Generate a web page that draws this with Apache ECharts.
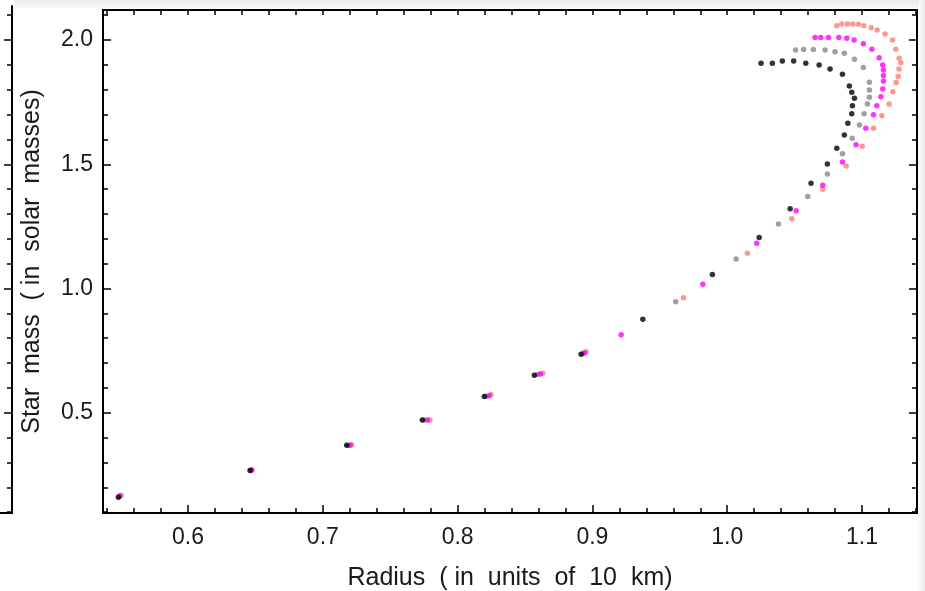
<!DOCTYPE html>
<html>
<head>
<meta charset="utf-8">
<script src="https://cdn.jsdelivr.net/npm/echarts@6/dist/echarts.min.js"></script>
<style>
  html, body { margin: 0; padding: 0; background: #fff; }
  #chart { width: 925px; height: 591px; }
</style>
</head>
<body>
<div id="chart"></div>
<script>
// Mass–radius sequences for four equations of state (radius in 10 km, mass in solar masses)
const radiusBlack = [0.5483, 0.6460, 0.7177, 0.7738, 0.8198, 0.8569, 0.8916, 0.9374, 0.9890, 1.0237, 1.0467, 1.0622, 1.0743, 1.0813, 1.0869, 1.0895, 1.0924, 1.0929, 1.0944, 1.0924, 1.0906, 1.0855, 1.0763, 1.0682, 1.0583, 1.0493, 1.0409, 1.0335, 1.0251];
const massBlack   = [0.160, 0.267, 0.369, 0.471, 0.565, 0.651, 0.735, 0.876, 1.056, 1.205, 1.321, 1.424, 1.501, 1.565, 1.618, 1.665, 1.703, 1.736, 1.766, 1.790, 1.815, 1.862, 1.884, 1.900, 1.907, 1.916, 1.916, 1.907, 1.907];

const radiusGray = [0.5488, 0.6465, 0.7187, 0.7751, 0.8211, 0.8589, 0.8931, 0.9618, 1.0066, 1.0380, 1.0598, 1.0743, 1.0855, 1.0927, 1.0981, 1.1016, 1.1040, 1.1055, 1.1055, 1.1055, 1.1010, 1.0944, 1.0869, 1.0800, 1.0726, 1.0639, 1.0567, 1.0507];
const massGray   = [0.163, 0.268, 0.369, 0.471, 0.566, 0.654, 0.739, 0.947, 1.119, 1.260, 1.370, 1.461, 1.542, 1.605, 1.658, 1.703, 1.743, 1.770, 1.799, 1.830, 1.890, 1.923, 1.947, 1.953, 1.960, 1.962, 1.962, 1.960];

const radiusMagenta = [0.5495, 0.6471, 0.7202, 0.7775, 0.8233, 0.8612, 0.8940, 0.9213, 0.9819, 1.0219, 1.0511, 1.0709, 1.0855, 1.0956, 1.1028, 1.1085, 1.1110, 1.1140, 1.1154, 1.1159, 1.1159, 1.1159, 1.1154, 1.1127, 1.1073, 1.1010, 1.0941, 1.0887, 1.0828, 1.0751, 1.0694, 1.0652];
const massMagenta   = [0.166, 0.269, 0.369, 0.471, 0.568, 0.656, 0.740, 0.814, 1.017, 1.182, 1.313, 1.416, 1.509, 1.579, 1.645, 1.699, 1.736, 1.772, 1.803, 1.835, 1.857, 1.880, 1.900, 1.929, 1.963, 1.985, 2.000, 2.007, 2.010, 2.010, 2.010, 2.010];

const radiusSalmon = [0.5503, 0.6474, 0.7213, 0.7795, 0.8248, 0.8632, 0.8953, 0.9675, 1.0150, 1.0479, 1.0709, 1.0882, 1.1001, 1.1085, 1.1147, 1.1201, 1.1229, 1.1253, 1.1268, 1.1275, 1.1288, 1.1275, 1.1251, 1.1226, 1.1171, 1.1112, 1.1068, 1.1013, 1.0973, 1.0932, 1.0892, 1.0850, 1.0813];
const massSalmon   = [0.167, 0.270, 0.371, 0.471, 0.573, 0.659, 0.745, 0.963, 1.142, 1.281, 1.400, 1.493, 1.573, 1.645, 1.695, 1.743, 1.792, 1.829, 1.853, 1.884, 1.909, 1.927, 1.963, 2.000, 2.024, 2.041, 2.050, 2.058, 2.064, 2.065, 2.065, 2.065, 2.058];

// Axis ranges and tick labels
const xRange = [0.5369, 1.1408];
const yRange = [0.0964, 2.121];
const xTickLabels = [0.6, 0.7, 0.8, 0.9, 1.0, 1.1];
const yTickLabels = [0.5, 1.0, 1.5, 2.0];
const xMinorStep = 0.02;
const yMinorStep = 0.1;

function minorValues(range, step, majors) {
  const out = [];
  const start = Math.ceil(range[0] / step - 1e-9);
  const end = Math.floor(range[1] / step + 1e-9);
  for (let i = start; i <= end; i++) {
    const v = +(i * step).toFixed(4);
    if (!majors.some(m => Math.abs(m - v) < 1e-6)) out.push(v);
  }
  return out;
}
const xMinor = minorValues(xRange, xMinorStep, xTickLabels);
const yMinor = minorValues(yRange, yMinorStep, yTickLabels);
const xAll = xMinor.concat(xTickLabels);

const FONT = '"Liberation Sans", Arial, sans-serif';
const TEXT = '#1a1a1a';
const lineStyle = { color: '#000', width: 2 };
const tickStyle = { color: '#000', width: 1.5 };

function pairs(xs, ys) { return xs.map((x, i) => [x, ys[i]]); }

function axisBase(extra) {
  return Object.assign({
    type: 'value', min: xRange[0], max: xRange[1],
    splitLine: { show: false },
    axisLine: { show: false, onZero: false },
    axisTick: { show: false },
    axisLabel: { show: false }
  }, extra);
}

const chart = echarts.init(document.getElementById('chart'), null, { renderer: 'canvas' });

chart.setOption({
  animation: false,
  backgroundColor: '#ffffff',
  grid: [
    { left: 103, top: 10, right: 8, bottom: 78, containLabel: false, outerBoundsMode: 'none' },
    { left: 0, width: 12, top: 6, bottom: 78, containLabel: false, outerBoundsMode: 'none' }
  ],
  xAxis: [
    axisBase({
      position: 'bottom',
      axisLine: { show: true, onZero: false, lineStyle },
      axisTick: { show: true, inside: true, length: 8, lineStyle: tickStyle, customValues: xTickLabels },
      axisLabel: {
        show: true, customValues: xTickLabels, margin: 13,
        formatter: v => v.toFixed(1),
        fontFamily: FONT, fontSize: 23, color: TEXT
      },
      name: 'Radius  ( in  units  of  10  km)',
      nameLocation: 'middle', nameGap: 53,
      nameTextStyle: { fontFamily: FONT, fontSize: 25, color: TEXT }
    }),
    axisBase({
      position: 'bottom',
      axisTick: { show: true, inside: true, length: 5, lineStyle: tickStyle, customValues: xMinor }
    }),
    axisBase({
      position: 'top',
      axisLine: { show: true, onZero: false, lineStyle },
      axisTick: { show: true, inside: true, length: 5, lineStyle: tickStyle, customValues: xAll }
    }),
    axisBase({
      gridIndex: 1, position: 'bottom', min: 0, max: 1,
      axisLine: { show: true, onZero: false, lineStyle }
    })
  ],
  yAxis: [
    axisBase({
      min: yRange[0], max: yRange[1], position: 'left',
      axisLine: { show: true, onZero: false, lineStyle },
      axisTick: { show: true, inside: true, length: 8, lineStyle: tickStyle, customValues: yTickLabels },
      axisLabel: {
        show: true, customValues: yTickLabels, margin: 10,
        formatter: v => v.toFixed(1),
        fontFamily: FONT, fontSize: 23, color: TEXT
      },
      name: 'Star  mass  ( in  solar  masses)',
      nameLocation: 'middle', nameGap: 58, nameRotate: 90,
      nameTextStyle: { fontFamily: FONT, fontSize: 25, color: TEXT }
    }),
    axisBase({
      min: yRange[0], max: yRange[1], position: 'left',
      axisTick: { show: true, inside: true, length: 5, lineStyle: tickStyle, customValues: yMinor }
    }),
    axisBase({
      min: yRange[0], max: yRange[1], position: 'right',
      axisLine: { show: true, onZero: false, lineStyle },
      axisTick: { show: true, inside: true, length: 8, lineStyle: tickStyle, customValues: yTickLabels }
    }),
    axisBase({
      min: yRange[0], max: yRange[1], position: 'right',
      axisTick: { show: true, inside: true, length: 5, lineStyle: tickStyle, customValues: yMinor }
    }),
    axisBase({
      gridIndex: 1, min: yRange[0], max: yRange[1] + 0.016, position: 'right',
      axisLine: { show: true, onZero: false, lineStyle },
      axisTick: { show: true, inside: true, length: 8, lineStyle: tickStyle, customValues: yTickLabels }
    }),
    axisBase({
      gridIndex: 1, min: yRange[0], max: yRange[1] + 0.016, position: 'right',
      axisTick: { show: true, inside: true, length: 5, lineStyle: tickStyle, customValues: yMinor }
    })
  ],
  graphic: [
    {
      type: 'rect', silent: true, z: -1,
      shape: { x: 14, y: 0, width: 911, height: 8 },
      style: {
        fill: new echarts.graphic.LinearGradient(0, 0, 0, 1, [
          { offset: 0, color: '#ebebeb' }, { offset: 1, color: '#f7f7f7' }
        ])
      }
    },
    {
      type: 'rect', silent: true, z: -1,
      shape: { x: 919, y: 0, width: 6, height: 591 },
      style: {
        fill: new echarts.graphic.LinearGradient(1, 0, 0, 0, [
          { offset: 0, color: '#ececec' }, { offset: 1, color: '#fbfbfb' }
        ])
      }
    }
  ],
  series: [
    { name: 'salmon', type: 'scatter', symbol: 'circle', symbolSize: 5.5, xAxisIndex: 0, yAxisIndex: 0,
      itemStyle: { color: '#fa8072' }, data: pairs(radiusSalmon, massSalmon) },
    { name: 'gray', type: 'scatter', symbol: 'circle', symbolSize: 5.5, xAxisIndex: 0, yAxisIndex: 0,
      itemStyle: { color: '#888888' }, data: pairs(radiusGray, massGray) },
    { name: 'magenta', type: 'scatter', symbol: 'circle', symbolSize: 5.5, xAxisIndex: 0, yAxisIndex: 0,
      itemStyle: { color: '#ff00ff' }, data: pairs(radiusMagenta, massMagenta) },
    { name: 'black', type: 'scatter', symbol: 'circle', symbolSize: 5.5, xAxisIndex: 0, yAxisIndex: 0,
      itemStyle: { color: '#000000' }, data: pairs(radiusBlack, massBlack) }
  ]
});
</script>
</body>
</html>
